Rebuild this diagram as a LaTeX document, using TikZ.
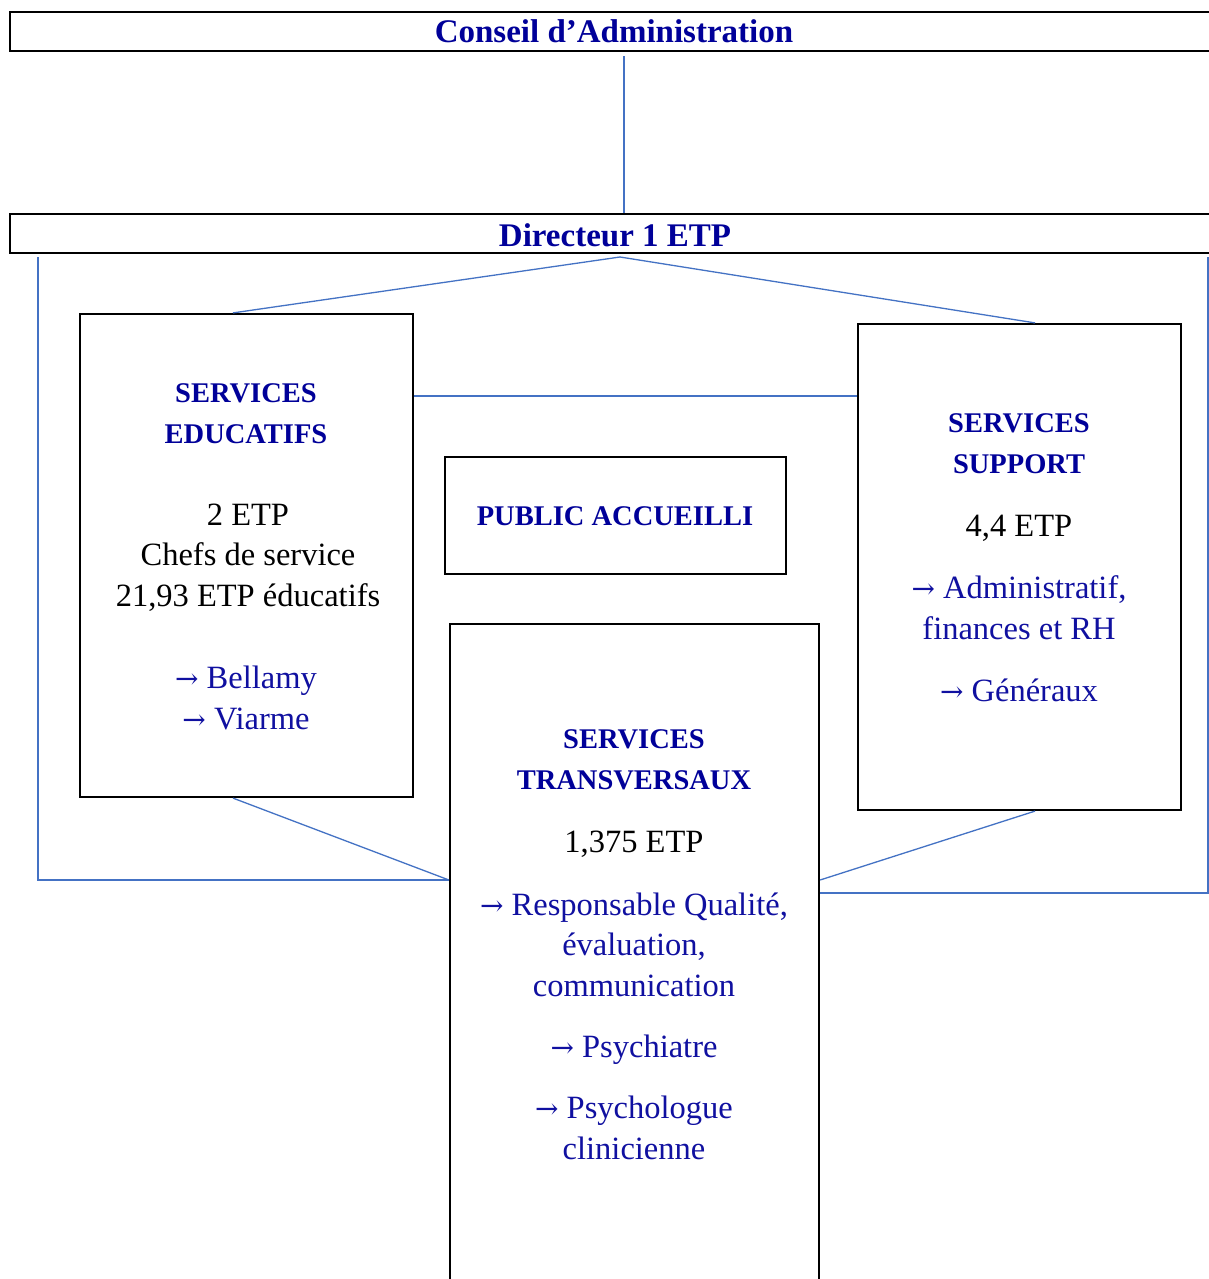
\documentclass[tikz,border=0pt]{standalone}
\usepackage{fontspec}
\setmainfont{Liberation Serif}
\newfontfamily\arrfont{DejaVu Serif}
\definecolor{head}{HTML}{000099}
\definecolor{bluetxt}{HTML}{1010A0}
\definecolor{conn}{HTML}{4472C4}
\newcommand{\myarr}{{\arrfont\fontsize{28}{40}\selectfont →}\space}
\begin{document}
\begin{tikzpicture}[x=1pt,y=-1pt,
  box/.style={draw=black,line width=2.2pt,inner sep=0pt,fill=none},
  wire/.style={draw=conn,line width=1.3pt},
  hd/.style={inner sep=0pt,anchor=base,align=center,text=head,font=\fontsize{28.5}{40.5}\selectfont\bfseries},
  title/.style={inner sep=0pt,anchor=base,align=center,text=head,font=\fontsize{33}{40}\selectfont\bfseries},
  body/.style={inner sep=0pt,anchor=base,align=center,text=black,font=\fontsize{32.5}{40.5}\selectfont},
  bl/.style={inner sep=0pt,anchor=base,align=center,text=bluetxt,font=\fontsize{32.5}{40.5}\selectfont}]
\useasboundingbox[fill=white] (0,0) rectangle (1209,1279);
% boxes
\node[box,minimum width=1210pt,minimum height=39pt] (conseil) at (615,31.5) {};
\node[box,minimum width=1210pt,minimum height=39pt] (dir) at (615,233.5) {};
\node[box,minimum width=333pt,minimum height=483pt] (educ) at (246.5,555.5) {};
\node[box,minimum width=323pt,minimum height=486pt] (supp) at (1019.5,567) {};
\node[box,minimum width=341pt,minimum height=117pt] (pub) at (615.5,515.5) {};
\node[box,minimum width=369pt,minimum height=720pt] (trans) at (634.5,984) {};
% texts (base = baseline of the last line)
\node[title] (tconseil) at (614,43) {Conseil d’Administration};
\node[title] (tdir) at (615,246) {Directeur 1 ETP};
\node[hd] (educh) at (246,443) {SERVICES\\EDUCATIFS};
\node[body] (educb) at (248,606) {2 ETP\\Chefs de service\\21,93 ETP éducatifs};
\node[bl] (educl) at (246,729) {\myarr Bellamy\\\myarr Viarme};
\node[hd] (supph) at (1019,473) {SERVICES\\SUPPORT};
\node[body] (suppb) at (1019,536) {4,4 ETP};
\node[bl] (suppl1) at (1019,639) {\myarr Administratif,\\finances et RH};
\node[bl] (suppl2) at (1019,701) {\myarr Généraux};
\node[hd] (pubh) at (615,525) {PUBLIC ACCUEILLI};
\node[hd] (transh) at (634,789) {SERVICES\\TRANSVERSAUX};
\node[body] (transb) at (634,852) {1,375 ETP};
\node[bl] (transl1) at (634,996) {\myarr Responsable Qualité,\\évaluation,\\communication};
\node[bl] (transl2) at (634,1057) {\myarr Psychiatre};
\node[bl] (transl3) at (634,1159) {\myarr Psychologue\\clinicienne};
% connectors
\coordinate (apex) at (620,257);
\coordinate (lf) at (38,257);
\coordinate (rf) at (1208,257);
\draw[wire] (conseil.south -| 624,0) ++(0,4) -- (dir.north -| 624,0);
\draw[wire] (apex) -- (educ.north -| 233,0);
\draw[wire] (apex) -- (supp.north -| 1035,0);
\draw[wire] (educ.east |- 0,396) -- (supp.west |- 0,396);
\draw[wire] (lf) -- (38,880) -- (trans.west |- 0,880);
\draw[wire] (rf) -- (1208,893) -- (trans.east |- 0,893);
\draw[wire] (educ.south -| 233,0) -- (trans.west |- 0,880);
\draw[wire] (supp.south -| 1035,0) -- (trans.east |- 0,880);
\end{tikzpicture}
\end{document}
